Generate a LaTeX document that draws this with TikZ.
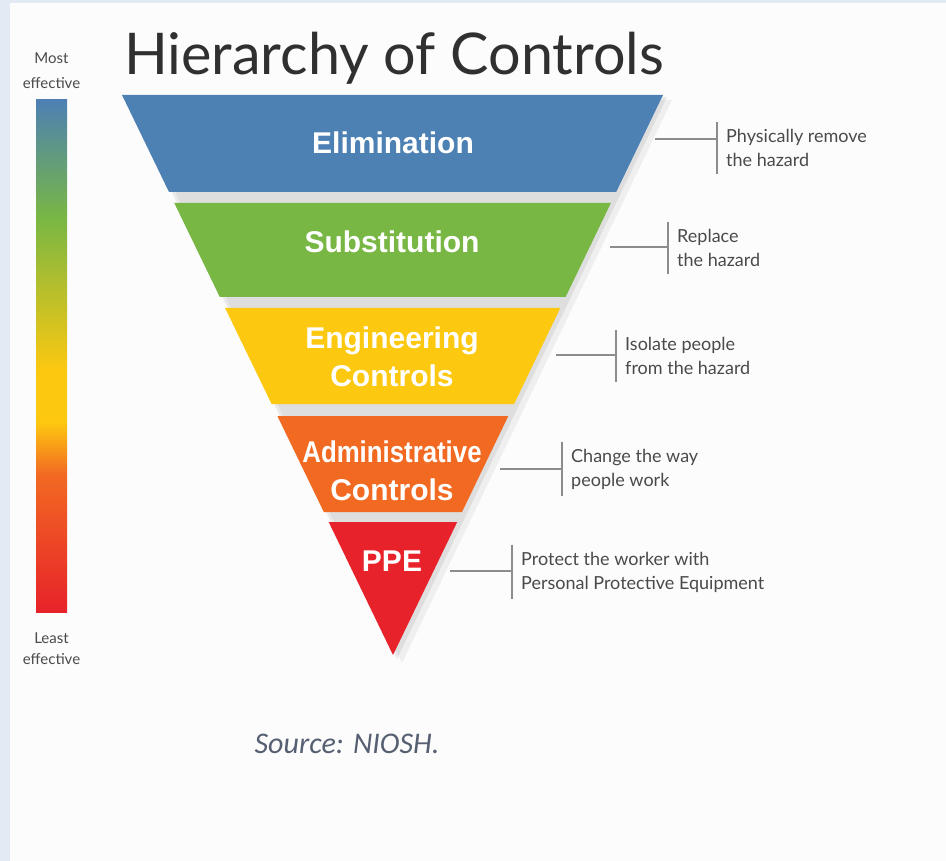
\documentclass[tikz,border=0pt]{standalone}
\usepackage{fontspec}
\setmainfont{Lato}
\newfontfamily\bandfont{Liberation Sans}
\newfontfamily\srcfont{Carlito}
\usetikzlibrary{positioning}

\definecolor{pageblue}{HTML}{E2EAF3}
\definecolor{elimblue}{HTML}{4D80B3}
\definecolor{substgreen}{HTML}{78B744}
\definecolor{enggyellow}{HTML}{FDC810}
\definecolor{adminorange}{HTML}{F26A22}
\definecolor{ppered}{HTML}{E7222A}
\definecolor{notegray}{HTML}{4A4A4A}
\definecolor{linegray}{HTML}{8C8C8C}
\definecolor{titlegray}{HTML}{303030}
\definecolor{srcgray}{HTML}{566072}

% barra de efetividade
\pgfdeclareverticalshading{effshade}{100bp}{color(0bp)=(ppered); color(25bp)=(ppered);
  color(38.5bp)=(adminorange); color(43.5bp)=(enggyellow); color(48.5bp)=(enggyellow);
  color(63.5bp)=(substgreen); color(75bp)=(elimblue); color(100bp)=(elimblue)}

\tikzset{
  bandtxt/.style={text=white, font=\bandfont\bfseries\fontsize{30}{38}\selectfont, align=center},
  note/.style={text=notegray, font=\fontsize{18}{24}\selectfont, align=left, anchor=west,
    inner xsep=9pt, inner ysep=7pt},
  notebar/.style={draw=linegray, line width=2pt},
  notelink/.style={draw=linegray, line width=1.6pt},
  endtxt/.style={text=notegray, font=\fontsize{15}{25}\selectfont, align=center}
}

\begin{document}
\begin{tikzpicture}[x=1pt, y=-1pt]
  \useasboundingbox (0,0) rectangle (946,861);
  \fill[pageblue] (0,0) rectangle (946,861);
  \fill[white!99!black] (10,3) rectangle (946,861);

  % Barra
  \node[shading=effshade, minimum width=31pt, minimum height=512pt, inner sep=0pt] (effbar) at (51.5,356) {};
  \node[endtxt, above=8pt of effbar] (most) {Most\\effective};
  \node[endtxt, below=17pt of effbar, font=\fontsize{15}{21}\selectfont] (least) {Least\\effective};

  % Titulo
  \node[anchor=base west, text=titlegray, font=\fontsize{57.5}{70}\selectfont, inner sep=0pt] (title) at (124,75) {Hierarchy of Controls};

  % Sombra
  \fill[black, opacity=0.05] (131,100) -- (672,100) -- (402,663) -- cycle;
  \fill[black, opacity=0.07] (126,97) -- (667,97) -- (397,659) -- cycle;

  % Faixas
  \fill[elimblue] (122,95) -- (663,95) -- (616.2,192) -- (169,192) -- cycle;
  \fill[substgreen] (174.3,203) -- (610.9,203) -- (565.6,297) -- (219.8,297) -- cycle;
  \fill[enggyellow] (225.1,308) -- (560.3,308) -- (514.1,404) -- (271.6,404) -- cycle;
  \fill[adminorange] (277.4,416) -- (508.3,416) -- (462,512) -- (323.8,512) -- cycle;
  \fill[ppered] (328.7,522) -- (457.2,522) -- (393,655) -- cycle;

  \node[bandtxt] (elim) at (393,143) {Elimination};
  \node[bandtxt] (subst) at (392,242) {Substitution};
  \node[bandtxt] (engg) at (392,357) {Engineering\\Controls};
  \node[bandtxt] (admin) at (392,471) {\scalebox{0.86}[1]{Administrative}\\Controls};
  \node[bandtxt] (ppe) at (392,561) {PPE};

  % Notas
  \node[note] (elimnote) at (717,148) {Physically remove\\the hazard};
  \node[note] (substnote) at (668,248) {Replace\\the hazard};
  \node[note] (enggnote) at (616,356) {Isolate people\\from the hazard};
  \node[note] (adminnote) at (562,469) {Change the way\\people work};
  \node[note] (ppenote) at (512,572) {Protect the worker with\\Personal Protective Equipment};

  \coordinate (elimpt) at (655,139);
  \coordinate (substpt) at (610,247);
  \coordinate (enggpt) at (556,355);
  \coordinate (adminpt) at (500,469);
  \coordinate (ppept) at (450,571);

  \draw[notebar] (elimnote.north west) -- (elimnote.south west);
  \draw[notebar] (substnote.north west) -- (substnote.south west);
  \draw[notebar] (enggnote.north west) -- (enggnote.south west);
  \draw[notebar] (adminnote.north west) -- (adminnote.south west);
  \draw[notebar] (ppenote.north west) -- (ppenote.south west);

  \draw[notelink] (elimpt) -- (elimpt -| elimnote.west);
  \draw[notelink] (substpt) -- (substpt -| substnote.west);
  \draw[notelink] (enggpt) -- (enggpt -| enggnote.west);
  \draw[notelink] (adminpt) -- (adminpt -| adminnote.west);
  \draw[notelink] (ppept) -- (ppept -| ppenote.west);

  % Fonte
  \node[text=srcgray, font=\srcfont\itshape\fontsize{30}{34}\selectfont] (src) at (347,744) {Source: NIOSH.};
\end{tikzpicture}
\end{document}
